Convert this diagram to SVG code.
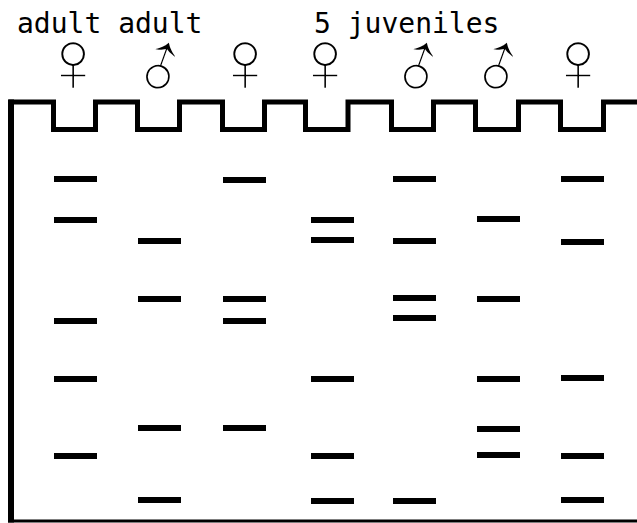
<svg xmlns="http://www.w3.org/2000/svg" width="637" height="523" viewBox="0 0 637 523">
<style>
.lbl{font-family:"DejaVu Sans Mono","Liberation Mono",monospace;font-size:28px;fill:#000}
.sym{font-family:"DejaVu Sans",sans-serif;font-weight:200;font-size:90px;fill:#000;stroke:#fff;stroke-width:1.6;text-anchor:middle}
.band{fill:#000}
.gel{fill:none;stroke:#000;stroke-width:5;stroke-linejoin:miter;stroke-linecap:butt}
</style>
<rect width="637" height="523" fill="#fff"/>
<g id="labels">
<text class="lbl" x="17" y="33">adult adult</text>
<text class="lbl" x="314" y="33">5 juveniles</text>
</g>
<g id="symbols">
<text class="sym" x="73" y="92">♀</text>
<text class="sym" x="166" y="99" transform="rotate(-25 162 80)">♂</text>
<text class="sym" x="245" y="92">♀</text>
<text class="sym" x="325" y="92">♀</text>
<text class="sym" x="424" y="99" transform="rotate(-25 420 80)">♂</text>
<text class="sym" x="504" y="99" transform="rotate(-25 500 80)">♂</text>
<text class="sym" x="578" y="92">♀</text>
</g>
<g id="gel">
<path class="gel" d="M11 522 V102 H53.5 V129.5 H95.5 V102 H137.5 V129.5 H179.5 V102 H222.5 V129.5 H264.5 V102 H305.5 V129.5 H348 V102 H391.5 V129.5 H433.5 V102 H475.5 V129.5 H518.5 V102 H560.5 V129.5 H603.5 V102 H637"/>
<line x1="11" y1="99.5" x2="11" y2="522.5" stroke="#000" stroke-width="6"/>
<line x1="8" y1="521" x2="637" y2="521" stroke="#000" stroke-width="3"/>
</g>
<g id="lane1">
<rect class="band" x="54" y="176" width="43" height="6"/>
<rect class="band" x="54" y="217" width="43" height="6"/>
<rect class="band" x="54" y="318" width="43" height="6"/>
<rect class="band" x="54" y="376" width="43" height="6"/>
<rect class="band" x="54" y="453" width="43" height="6"/>
</g>
<g id="lane2">
<rect class="band" x="138" y="238" width="43" height="6"/>
<rect class="band" x="138" y="296" width="43" height="6"/>
<rect class="band" x="138" y="425" width="43" height="6"/>
<rect class="band" x="138" y="497" width="43" height="6"/>
</g>
<g id="lane3">
<rect class="band" x="223" y="177" width="43" height="6"/>
<rect class="band" x="223" y="296" width="43" height="6"/>
<rect class="band" x="223" y="318" width="43" height="6"/>
<rect class="band" x="223" y="425" width="43" height="6"/>
</g>
<g id="lane4">
<rect class="band" x="311" y="217" width="43" height="6"/>
<rect class="band" x="311" y="237" width="43" height="6"/>
<rect class="band" x="311" y="376" width="43" height="6"/>
<rect class="band" x="311" y="453" width="43" height="6"/>
<rect class="band" x="311" y="498" width="43" height="6"/>
</g>
<g id="lane5">
<rect class="band" x="393" y="176" width="43" height="6"/>
<rect class="band" x="393" y="238" width="43" height="6"/>
<rect class="band" x="393" y="295" width="43" height="6"/>
<rect class="band" x="393" y="315" width="43" height="6"/>
<rect class="band" x="393" y="498" width="43" height="6"/>
</g>
<g id="lane6">
<rect class="band" x="477" y="216" width="43" height="6"/>
<rect class="band" x="477" y="296" width="43" height="6"/>
<rect class="band" x="477" y="376" width="43" height="6"/>
<rect class="band" x="477" y="426" width="43" height="6"/>
<rect class="band" x="477" y="452" width="43" height="6"/>
</g>
<g id="lane7">
<rect class="band" x="561" y="176" width="43" height="6"/>
<rect class="band" x="561" y="239" width="43" height="6"/>
<rect class="band" x="561" y="375" width="43" height="6"/>
<rect class="band" x="561" y="453" width="43" height="6"/>
<rect class="band" x="561" y="497" width="43" height="6"/>
</g>
</svg>
